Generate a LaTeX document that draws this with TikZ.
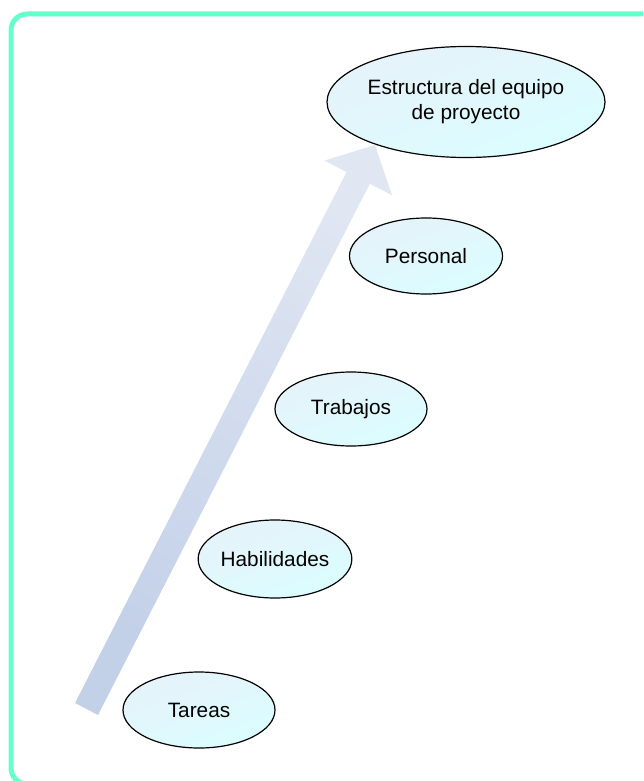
\documentclass[tikz,border=0pt]{standalone}
\usepackage{fontspec}
\setmainfont{Liberation Sans}
\usetikzlibrary{shapes.geometric}
\definecolor{frame}{HTML}{66FFCC}
\definecolor{arrowlight}{HTML}{E0E6F2}
\definecolor{arrowdark}{HTML}{C2D0E8}
\definecolor{bubtop}{HTML}{E6F2FA}
\definecolor{bubbot}{HTML}{DAFEFF}
\tikzset{
  bubble/.style={ellipse, draw=black, line width=1.2pt, inner sep=0pt,
    top color=bubtop, bottom color=bubbot, shading angle=20,
    font=\fontsize{20.8}{25}\selectfont, align=center},
}
\begin{document}
\begin{tikzpicture}[x=1pt,y=-1pt]
\useasboundingbox (0,0) rectangle (643,781);
\clip (0,0) rectangle (643,781);
% outer frame
\draw[frame, line width=5pt, rounded corners=16pt] (11,14) rectangle (665,784);
% rising arrow
\shade[top color=arrowlight, bottom color=arrowdark, shading angle=-27]
  (75,703) -- (346.6,172.0) -- (324.4,160.6) -- (375,145)
  -- (392.0,195.2) -- (369.8,183.8) -- (98,715) -- cycle;
% stages
\node[bubble, minimum width=266pt, minimum height=111pt] (estructura) at (466,102)
  {Estructura del equipo\\de proyecto};
\node[bubble, minimum width=153pt, minimum height=76pt] (personal) at (426,256) {Personal};
\node[bubble, minimum width=152pt, minimum height=74pt] (trabajos) at (351,409) {Trabajos};
\node[bubble, minimum width=150pt, minimum height=78pt] (habilidades) at (275,559) {Habilidades};
\node[bubble, minimum width=152pt, minimum height=76pt] (tareas) at (199,710) {Tareas};
\end{tikzpicture}
\end{document}
